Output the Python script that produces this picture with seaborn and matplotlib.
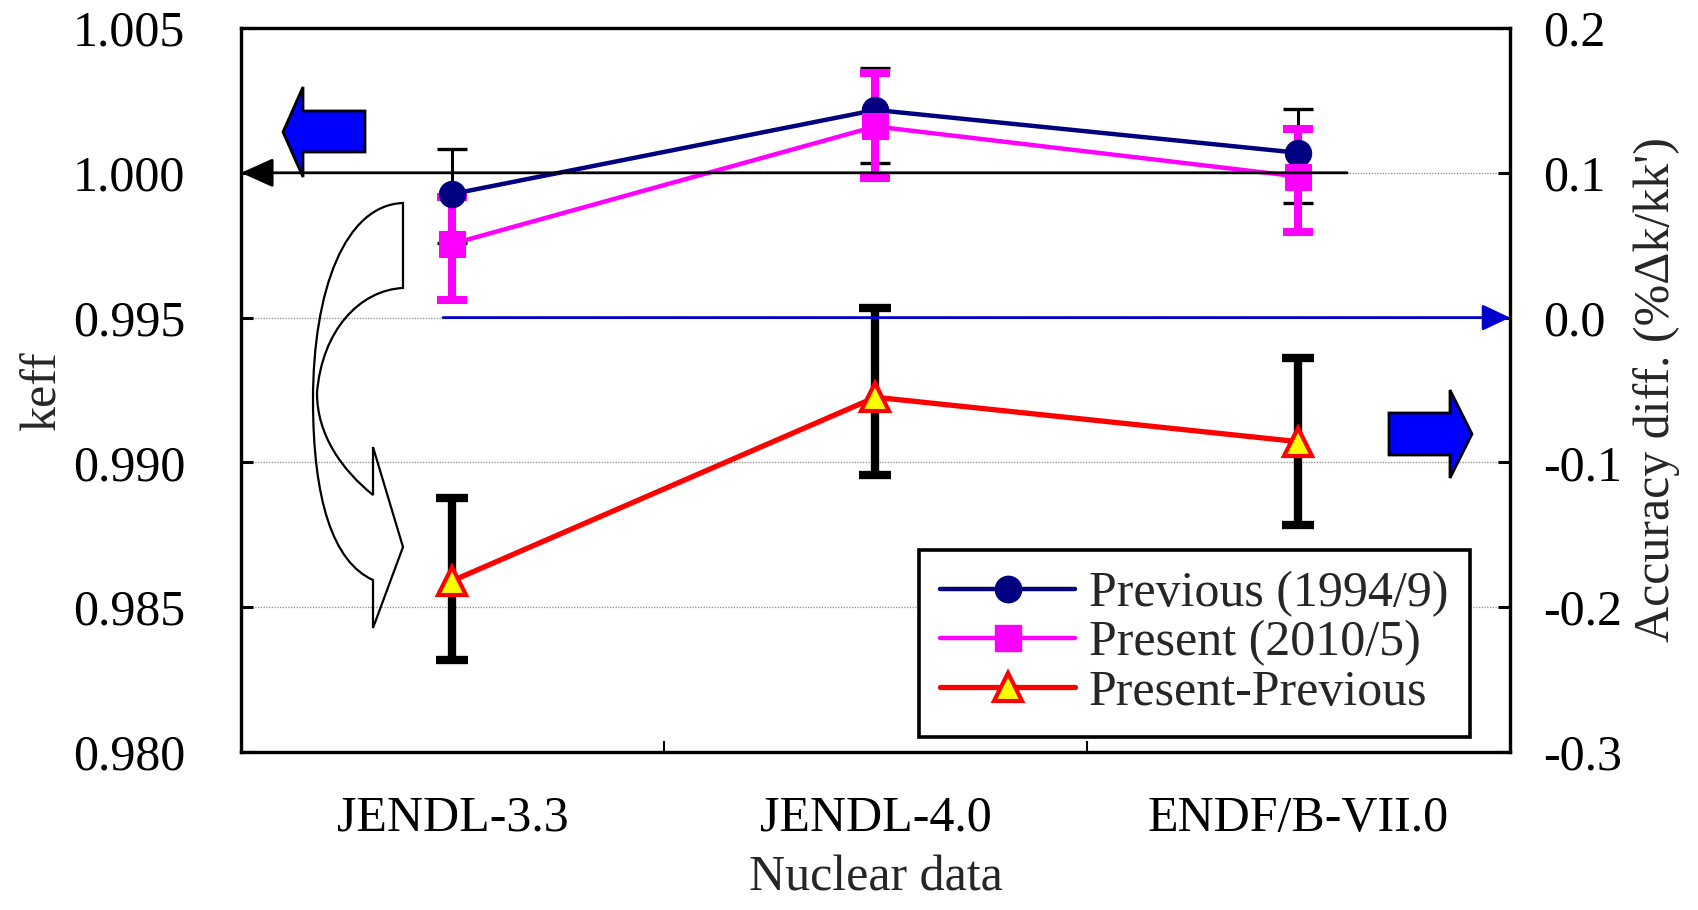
import numpy as np
import pandas as pd
import matplotlib
matplotlib.use("Agg")
import matplotlib.pyplot as plt
import seaborn as sns
from matplotlib.path import Path
from matplotlib.patches import PathPatch, Polygon
from matplotlib.lines import Line2D
from matplotlib.ticker import FixedLocator, FormatStrFormatter
import matplotlib.transforms as mtransforms

# ---------------- data ----------------
categories = ["JENDL-3.3", "JENDL-4.0", "ENDF/B-VII.0"]
previous = [0.99927, 1.00217, 1.00069]
previous_err_low = [0.00170, 0.00184, 0.00174]
previous_err_high = [0.00154, 0.00144, 0.00151]
present = [0.99755, 1.00160, 0.99987]
present_err_low = [0.00194, 0.00179, 0.00192]
present_err_high = [0.00161, 0.00184, 0.00163]
diff = [-0.1817, -0.0550, -0.0857]
diff_err_low = [0.0548, 0.0537, 0.0575]
diff_err_high = [0.0569, 0.0614, 0.0576]

left_ticks = [0.980, 0.985, 0.990, 0.995, 1.000, 1.005]
right_ticks = [-0.3, -0.2, -0.1, 0.0, 0.1, 0.2]
series_labels = ["Previous (1994/9)", "Present (2010/5)", "Present-Previous"]
xlabel = "Nuclear data"
ylabel_left = "keff"
ylabel_right = "Accuracy diff. (%\u0394k/kk')"

# ---------------- style ----------------
sns.set_style("white")
plt.rcParams["font.family"] = ["Liberation Serif", "DejaVu Serif"]
plt.rcParams["axes.unicode_minus"] = False
FS = 36

NAVY = "#000080"
MAGENTA = "#FF00FF"
RED = "#FF0000"
YELLOW = "#FFFF00"
BLUE_LINE = "#0000CC"
LW_NAVY, LW_MAG, LW_RED = 3.2, 3.2, 3.8

W, H = 1699, 910
fig = plt.figure(figsize=(W / 100, H / 100), dpi=100)
ax = fig.add_axes([241 / W, 1 - 752 / H, 1269 / W, 724 / H])

x = np.arange(len(categories))
df = pd.DataFrame({"x": x, "previous": previous, "present": present, "diff": diff})

# error bars (left axis)
ax.errorbar(x, previous, yerr=[previous_err_low, previous_err_high], fmt="none",
            ecolor="black", elinewidth=2.2, capsize=11, capthick=2.4, zorder=2)
ax.errorbar(x, present, yerr=[present_err_low, present_err_high], fmt="none",
            ecolor=MAGENTA, elinewidth=5.8, capsize=11, capthick=5.8, zorder=3)

sns.lineplot(data=df, x="x", y="previous", ax=ax, color=NAVY, linewidth=LW_NAVY,
             marker="o", markersize=19, markeredgecolor=NAVY, markerfacecolor=NAVY,
             zorder=4)
sns.lineplot(data=df, x="x", y="present", ax=ax, color=MAGENTA, linewidth=LW_MAG,
             marker="s", markersize=19, markeredgecolor=MAGENTA, markerfacecolor=MAGENTA,
             zorder=5)

ax.set_xlim(-0.5, 2.5)
ax.set_ylim(0.98, 1.005)
ax.set_xticks(x)
ax.set_xticklabels(categories)
ax.xaxis.set_minor_locator(FixedLocator([0.5, 1.5]))
ax.set_yticks(left_ticks)
ax.yaxis.set_major_formatter(FormatStrFormatter("%.3f"))
ax.tick_params(axis="y", which="major", direction="in", length=8.6, width=2.2,
               pad=40, labelsize=FS, left=True, right=False, colors="black")
ax.tick_params(axis="x", which="major", length=0, pad=31, labelsize=FS, colors="black")
ax.tick_params(axis="x", which="minor", direction="in", length=8, width=1.5,
               bottom=True, top=False, colors="black")
ax.set_xlabel(xlabel, fontsize=FS, labelpad=10)
ax.set_ylabel(ylabel_left, fontsize=FS, labelpad=5)

ax.set_axisbelow(True)
ax.yaxis.grid(True, color="#8a8a8a", linestyle=(0, (1, 1.2)), linewidth=0.9)
ax.xaxis.grid(False)

# reference line at keff = 1.000 with arrow to the left axis
ax.annotate("", xy=(-0.5, 1.000), xytext=(2.115, 1.000), xycoords="data",
            arrowprops=dict(arrowstyle="-|>,head_length=1.0,head_width=0.45",
                            color="black", lw=2.0, shrinkA=0, shrinkB=0,
                            mutation_scale=20),
            zorder=6, annotation_clip=False)

# ---------------- right axis ----------------
ax2 = ax.twinx()
ax2.errorbar(x, diff, yerr=[diff_err_low, diff_err_high], fmt="none",
             ecolor="black", elinewidth=6, capsize=11.5, capthick=6, zorder=2)
sns.lineplot(data=df, x="x", y="diff", ax=ax2, color=RED, linewidth=LW_RED,
             marker="^", markersize=20, markeredgecolor=RED, markerfacecolor=YELLOW,
             markeredgewidth=3, zorder=4)
ax2.set_xlim(-0.5, 2.5)
ax2.set_ylim(-0.3, 0.2)
ax2.set_yticks(right_ticks)
ax2.yaxis.set_major_formatter(FormatStrFormatter("%.1f"))
ax2.tick_params(axis="y", direction="in", length=8.6, width=2.2, pad=24,
                labelsize=FS, right=True, left=False, colors="black")
ax2.set_ylabel(ylabel_right, fontsize=FS, labelpad=8)
ax2.set_xlabel("")
ax2.grid(False)

# reference line at 0.0 with arrow to the right axis
ax2.annotate("", xy=(2.5, 0.0), xytext=(-0.0225, 0.0), xycoords="data",
             arrowprops=dict(arrowstyle="-|>,head_length=0.85,head_width=0.4",
                             color=BLUE_LINE, lw=2.0, shrinkA=0, shrinkB=0,
                             mutation_scale=20),
             zorder=5, annotation_clip=False)

for a in (ax, ax2):
    for sp in a.spines.values():
        sp.set_visible(True)
        sp.set_color("black")
        sp.set_linewidth(2.3)

# legend
handles = [
    Line2D([], [], color=NAVY, lw=LW_NAVY, marker="o", ms=19, mfc=NAVY, mec=NAVY),
    Line2D([], [], color=MAGENTA, lw=LW_MAG, marker="s", ms=19, mfc=MAGENTA, mec=MAGENTA),
    Line2D([], [], color=RED, lw=LW_RED, marker="^", ms=20, mfc=YELLOW, mec=RED, mew=3),
]
leg = ax2.legend(handles, series_labels, loc="lower right",
                 bbox_to_anchor=(0.9685, 0.0207), borderaxespad=0,
                 fontsize=FS, handlelength=2.7, handletextpad=0.28,
                 borderpad=0.43, labelspacing=0.05, frameon=True,
                 fancybox=False, framealpha=1, edgecolor="black")
leg.get_frame().set_linewidth(2.6)
leg.set_zorder(10)

# ---------------- decorative block arrows (reference pixel coordinates) ----------------
pix = mtransforms.Affine2D().scale(1 / W, -1 / H).translate(0, 1) + fig.transFigure

left_arrow = [(283, 132), (303, 87), (303, 111), (365, 111), (365, 152), (303, 152), (303, 177)]
right_arrow = [(1389, 413), (1450, 413), (1450, 390), (1472, 434), (1450, 478), (1450, 455), (1389, 455)]
for pts in (left_arrow, right_arrow):
    fig.add_artist(Polygon(pts, closed=True, facecolor="#0000FF", edgecolor="black",
                           linewidth=2.0, transform=pix, zorder=8))

curve_verts = [
    (403, 203),
    (345, 205), (313, 290), (313, 400),
    (313, 500), (333, 562), (373, 580),
    (373, 628),
    (403, 547),
    (373, 447),
    (373, 495),
    (342, 470), (317, 435), (317, 393),
    (322, 330), (360, 290), (403, 288),
    (403, 203),
]
curve_codes = ([Path.MOVETO] + [Path.CURVE4] * 6 + [Path.LINETO] * 4 +
               [Path.CURVE4] * 6 + [Path.CLOSEPOLY])
fig.add_artist(PathPatch(Path(curve_verts, curve_codes), facecolor="none",
                         edgecolor="black", linewidth=1.6, transform=pix, zorder=8))

fig.savefig("out.png", dpi=100)
